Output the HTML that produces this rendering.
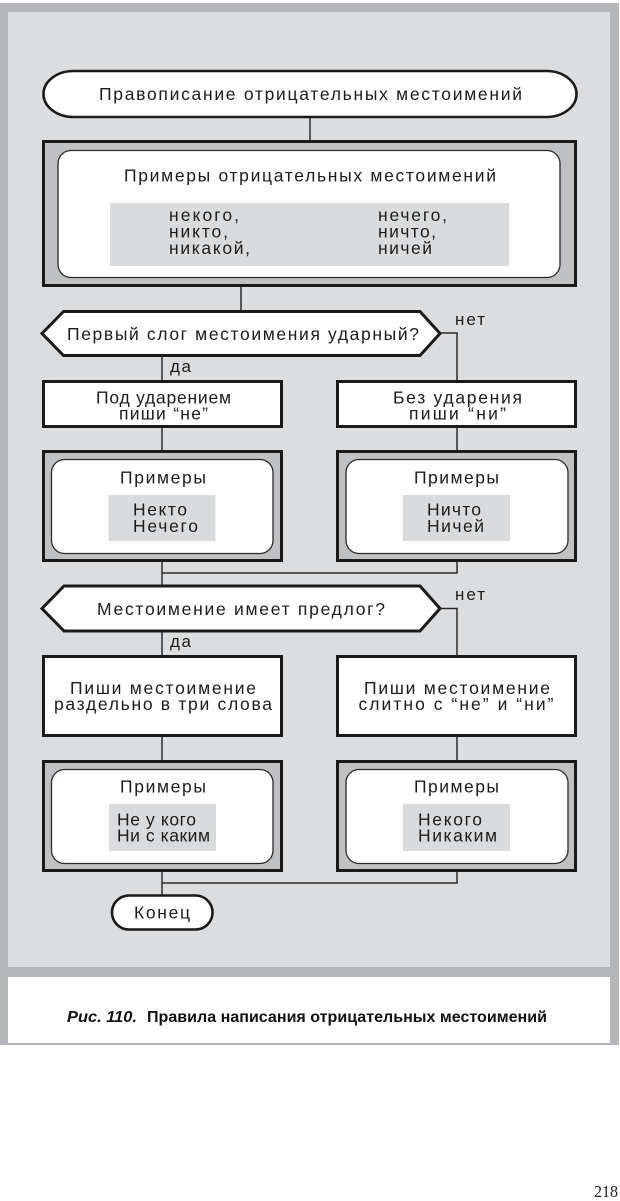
<!DOCTYPE html>
<html>
<head>
<meta charset="utf-8">
<style>
  html, body { margin:0; padding:0; background:#ffffff; }
  body { width:620px; height:1201px; overflow:hidden; }
  svg { display:block; }
  text { font-family: "Liberation Sans", "DejaVu Sans", sans-serif; fill:#1c1c1c; }
</style>
</head>
<body>
<svg width="620" height="1201" viewBox="0 0 620 1201" xmlns="http://www.w3.org/2000/svg">
  <!-- frame -->
  <rect x="0" y="3" width="619" height="1042" fill="#b4b6b9"/>
  <rect x="8" y="12" width="602" height="955" fill="#dcdddf"/>
  <rect x="8" y="977" width="602" height="66" fill="#ffffff"/>

  <!-- connectors -->
  <g stroke="#2a2a2a" stroke-width="1.5" fill="none">
    <line x1="310" y1="117" x2="310" y2="141"/>
    <line x1="241" y1="287" x2="241" y2="312"/>
    <polyline points="440,333 457,333 457,381"/>
    <line x1="162" y1="355" x2="162" y2="381"/>
    <line x1="162" y1="427" x2="162" y2="451"/>
    <line x1="457" y1="427" x2="457" y2="451"/>
    <line x1="162" y1="561" x2="162" y2="586"/>
    <polyline points="457,561 457,573 162,573"/>
    <polyline points="440,608.5 457,608.5 457,656"/>
    <line x1="162" y1="631" x2="162" y2="656"/>
    <line x1="162" y1="736" x2="162" y2="761"/>
    <line x1="457" y1="736" x2="457" y2="761"/>
    <line x1="162" y1="871" x2="162" y2="895"/>
    <polyline points="457,871 457,883 162,883"/>
  </g>

  <!-- start pill -->
  <rect x="43.5" y="71" width="533" height="46" rx="30" ry="23" fill="#ffffff" stroke="#1a1a1a" stroke-width="2.6"/>
  <text x="99" y="100" font-size="17.5" textLength="423" lengthAdjust="spacing">Правописание отрицательных местоимений</text>

  <!-- big examples box -->
  <rect x="43.5" y="141.5" width="532" height="144" fill="#bfc1c3" stroke="#1a1a1a" stroke-width="3"/>
  <rect x="58" y="150.5" width="502" height="127" rx="13" fill="#ffffff" stroke="#2a2a2a" stroke-width="1.3"/>
  <text x="124" y="181.5" font-size="17.5" textLength="372" lengthAdjust="spacing">Примеры отрицательных местоимений</text>
  <rect x="110" y="203" width="399" height="63" fill="#dadbdd"/>
  <g font-size="17.5">
    <text x="169" y="221" textLength="70" lengthAdjust="spacing">некого,</text>
    <text x="169" y="237.5" textLength="59" lengthAdjust="spacing">никто,</text>
    <text x="169" y="254" textLength="81" lengthAdjust="spacing">никакой,</text>
    <text x="378" y="221" textLength="69" lengthAdjust="spacing">нечего,</text>
    <text x="378" y="237.5" textLength="58" lengthAdjust="spacing">ничто,</text>
    <text x="378" y="254" textLength="54" lengthAdjust="spacing">ничей</text>
  </g>

  <!-- decision 1 -->
  <polygon points="42,333.5 63.5,311.5 420,311.5 440,333.5 420,355.5 63.5,355.5" fill="#ffffff" stroke="#1a1a1a" stroke-width="3" stroke-linejoin="miter"/>
  <text x="67" y="340" font-size="17.5" textLength="352" lengthAdjust="spacing">Первый слог местоимения ударный?</text>
  <text x="455" y="325" font-size="17" textLength="30" lengthAdjust="spacing">нет</text>
  <text x="170" y="372" font-size="17" textLength="21" lengthAdjust="spacing">да</text>

  <!-- level 1 boxes -->
  <rect x="43.5" y="381.5" width="238" height="45" fill="#ffffff" stroke="#1a1a1a" stroke-width="3"/>
  <text x="96" y="403.5" font-size="17.5" textLength="135" lengthAdjust="spacing">Под ударением</text>
  <text x="119" y="419.5" font-size="17.5" textLength="89" lengthAdjust="spacing">пиши “не”</text>

  <rect x="337.5" y="381.5" width="238" height="45" fill="#ffffff" stroke="#1a1a1a" stroke-width="3"/>
  <text x="393" y="403.5" font-size="17.5" textLength="129" lengthAdjust="spacing">Без ударения</text>
  <text x="409" y="419.5" font-size="17.5" textLength="97" lengthAdjust="spacing">пиши “ни”</text>

  <!-- level 1 examples -->
  <rect x="43.5" y="451.5" width="238" height="109" fill="#bfc1c3" stroke="#1a1a1a" stroke-width="3"/>
  <rect x="51.5" y="459.5" width="221.5" height="94" rx="13" fill="#ffffff" stroke="#2a2a2a" stroke-width="1.3"/>
  <text x="120" y="483.5" font-size="17.5" textLength="86" lengthAdjust="spacing">Примеры</text>
  <rect x="108.5" y="495" width="107" height="46" fill="#dadbdd"/>
  <text x="133" y="515.5" font-size="17.5" textLength="54" lengthAdjust="spacing">Некто</text>
  <text x="133" y="532" font-size="17.5" textLength="65" lengthAdjust="spacing">Нечего</text>

  <rect x="337.5" y="451.5" width="238" height="109" fill="#bfc1c3" stroke="#1a1a1a" stroke-width="3"/>
  <rect x="346" y="459.5" width="222" height="94" rx="13" fill="#ffffff" stroke="#2a2a2a" stroke-width="1.3"/>
  <text x="414" y="483.5" font-size="17.5" textLength="85" lengthAdjust="spacing">Примеры</text>
  <rect x="403" y="495" width="107" height="46" fill="#dadbdd"/>
  <text x="427" y="515.5" font-size="17.5" textLength="54" lengthAdjust="spacing">Ничто</text>
  <text x="427" y="532" font-size="17.5" textLength="57" lengthAdjust="spacing">Ничей</text>

  <!-- decision 2 -->
  <polygon points="42,608.5 64,586 420,586 440,608.5 420,631 64,631" fill="#ffffff" stroke="#1a1a1a" stroke-width="3" stroke-linejoin="miter"/>
  <text x="97" y="615" font-size="17.5" textLength="288" lengthAdjust="spacing">Местоимение имеет предлог?</text>
  <text x="455" y="600" font-size="17" textLength="30" lengthAdjust="spacing">нет</text>
  <text x="170" y="647" font-size="17" textLength="21" lengthAdjust="spacing">да</text>

  <!-- level 2 boxes -->
  <rect x="43.5" y="656.5" width="238" height="79" fill="#ffffff" stroke="#1a1a1a" stroke-width="3"/>
  <text x="70" y="694" font-size="17.5" textLength="186" lengthAdjust="spacing">Пиши местоимение</text>
  <text x="54" y="710" font-size="17.5" textLength="218" lengthAdjust="spacing">раздельно в три слова</text>

  <rect x="337.5" y="656.5" width="238" height="79" fill="#ffffff" stroke="#1a1a1a" stroke-width="3"/>
  <text x="364" y="694" font-size="17.5" textLength="186" lengthAdjust="spacing">Пиши местоимение</text>
  <text x="358.5" y="710" font-size="17.5" textLength="195" lengthAdjust="spacing">слитно с “не” и “ни”</text>

  <!-- level 2 examples -->
  <rect x="43.5" y="761.5" width="238" height="109" fill="#bfc1c3" stroke="#1a1a1a" stroke-width="3"/>
  <rect x="51.5" y="769.5" width="221.5" height="94" rx="13" fill="#ffffff" stroke="#2a2a2a" stroke-width="1.3"/>
  <text x="120" y="792.5" font-size="17.5" textLength="86" lengthAdjust="spacing">Примеры</text>
  <rect x="109" y="804" width="107" height="47" fill="#dadbdd"/>
  <text x="117" y="825.5" font-size="17.5" textLength="79" lengthAdjust="spacing">Не у кого</text>
  <text x="117" y="841.5" font-size="17.5" textLength="93" lengthAdjust="spacing">Ни с каким</text>

  <rect x="337.5" y="761.5" width="238" height="109" fill="#bfc1c3" stroke="#1a1a1a" stroke-width="3"/>
  <rect x="346" y="769.5" width="222" height="94" rx="13" fill="#ffffff" stroke="#2a2a2a" stroke-width="1.3"/>
  <text x="414" y="792.5" font-size="17.5" textLength="85" lengthAdjust="spacing">Примеры</text>
  <rect x="403" y="804" width="107" height="47" fill="#dadbdd"/>
  <text x="418" y="825.5" font-size="17.5" textLength="64" lengthAdjust="spacing">Некого</text>
  <text x="418" y="841.5" font-size="17.5" textLength="79" lengthAdjust="spacing">Никаким</text>

  <!-- end pill -->
  <rect x="112" y="895.5" width="100.5" height="34" rx="17" fill="#ffffff" stroke="#1a1a1a" stroke-width="2.6"/>
  <text x="134" y="918.5" font-size="17.5" textLength="56" lengthAdjust="spacing">Конец</text>

  <!-- caption -->
  <text x="67" y="1022" font-size="15.5" font-weight="bold" font-style="italic" textLength="70" lengthAdjust="spacingAndGlyphs" style="fill:#111">Рис. 110.</text>
  <text x="147" y="1022" font-size="15.5" font-weight="bold" textLength="400" lengthAdjust="spacingAndGlyphs" style="fill:#111">Правила написания отрицательных местоимений</text>

  <!-- page number -->
  <text x="594" y="1197" font-size="17" textLength="24" lengthAdjust="spacingAndGlyphs" style="font-family:'Liberation Serif', serif; fill:#222">218</text>
</svg>
</body>
</html>
